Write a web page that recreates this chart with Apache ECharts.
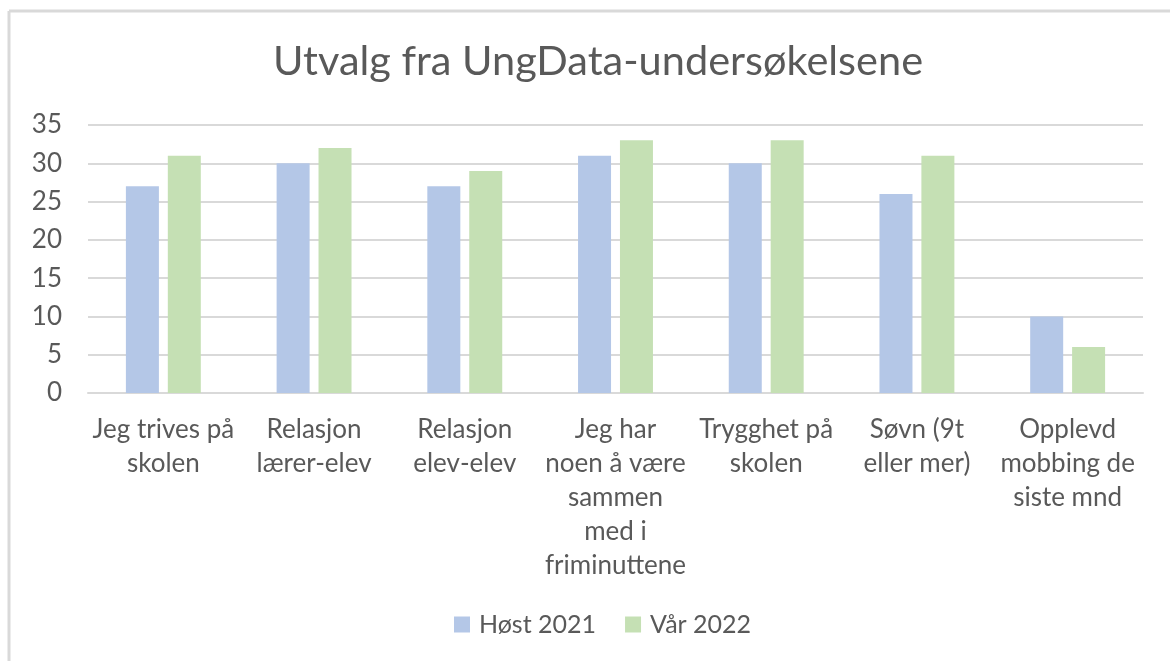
<!DOCTYPE html>
<html>
<head>
<meta charset="utf-8">
<script src="https://cdn.jsdelivr.net/npm/echarts@6/dist/echarts.min.js"></script>
<style>
html,body{margin:0;padding:0;background:#fff;}
#chart{width:1170px;height:661px;}
</style>
</head>
<body>
<div id="chart"></div>
<script>
const categories = [
  "Jeg trives på\nskolen",
  "Relasjon\nlærer-elev",
  "Relasjon\nelev-elev",
  "Jeg har\nnoen å være\nsammen\nmed i\nfriminuttene",
  "Trygghet på\nskolen",
  "Søvn (9t\neller mer)",
  "Opplevd\nmobbing de\nsiste mnd"
];
const host2021 = [27, 30, 27, 31, 30, 26, 10];
const var2022 = [31, 32, 29, 33, 33, 31, 6];
const seriesNames = ["Høst 2021", "Vår 2022"];

const chart = echarts.init(document.getElementById('chart'), null, {renderer: 'canvas'});
const font = 'Lato, "Open Sans", sans-serif';
chart.setOption({
  animation: false,
  backgroundColor: '#ffffff',
  graphic: [
    {type: 'line', shape: {x1: 9, y1: 11, x2: 1170, y2: 11}, style: {stroke: '#d9d9d9', lineWidth: 3}},
    {type: 'line', shape: {x1: 9, y1: 11, x2: 9, y2: 661}, style: {stroke: '#d9d9d9', lineWidth: 3}}
  ],
  title: {
    text: 'Utvalg fra UngData-undersøkelsene',
    left: 268,
    top: 36,
    textStyle: {fontFamily: font, fontSize: 41.5, fontWeight: 'normal', color: '#595959'}
  },
  legend: {
    data: seriesNames,
    bottom: 19,
    left: 449,
    itemWidth: 16,
    itemHeight: 16,
    itemGap: 29,
    icon: 'rect',
    textStyle: {fontFamily: font, fontSize: 25, color: '#595959', padding: [0, 0, 0, 4]}
  },
  grid: {left: 88, right: 27, top: 125, bottom: 268, containLabel: false},
  xAxis: {
    type: 'category',
    data: categories,
    axisLine: {show: true, lineStyle: {color: '#d9d9d9', width: 2}},
    axisTick: {show: false},
    axisLabel: {
      interval: 0,
      margin: 20,
      fontFamily: font,
      fontSize: 26,
      lineHeight: 34,
      color: '#595959',
      align: 'center',
      verticalAlign: 'top'
    }
  },
  yAxis: {
    type: 'value',
    min: 0,
    max: 35,
    interval: 5,
    axisLine: {show: false},
    axisTick: {show: false},
    splitLine: {lineStyle: {color: '#d9d9d9', width: 2}},
    axisLabel: {margin: 26, fontFamily: font, fontSize: 26, color: '#595959'}
  },
  series: [
    {name: seriesNames[0], type: 'bar', data: host2021, barWidth: 33, barGap: '27%', itemStyle: {color: '#b4c7e7'}},
    {name: seriesNames[1], type: 'bar', data: var2022, barWidth: 33, barGap: '27%', itemStyle: {color: '#c5e0b4'}}
  ]
});
</script>
</body>
</html>
